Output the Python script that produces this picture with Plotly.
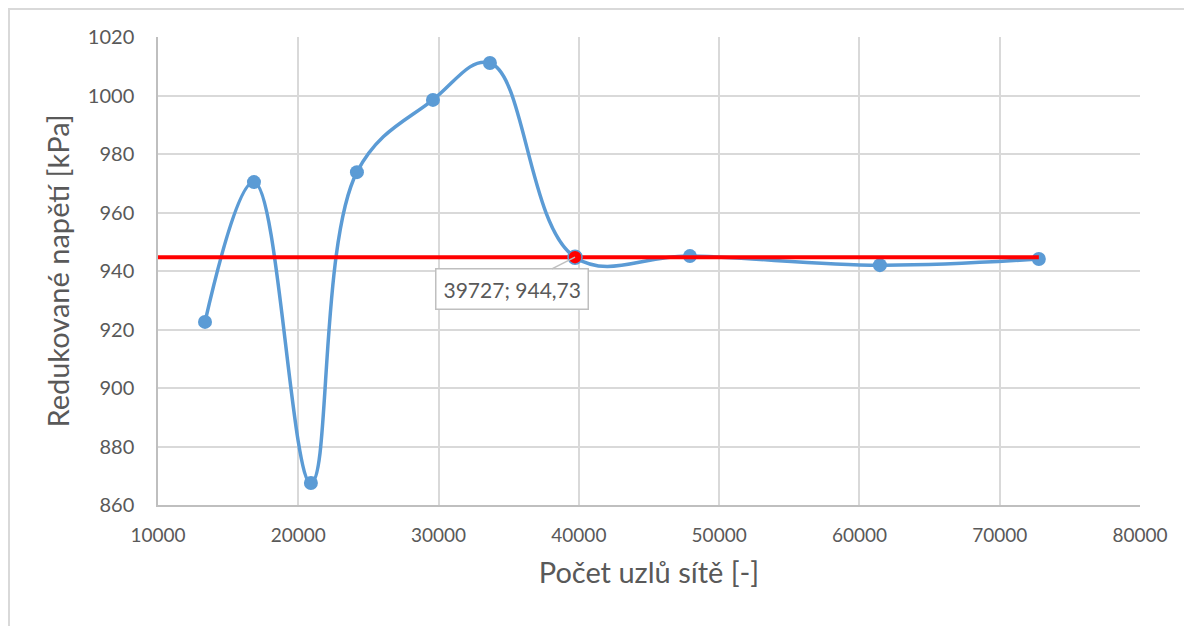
import plotly.graph_objects as go

nodes = [13350, 16840, 20900, 24180, 29600, 33660, 39727, 47920, 61460, 72790]
stress = [922.6, 970.4, 867.5, 973.8, 998.5, 1011.1, 944.73, 945.1, 942.0, 944.1]
ref_x = [10000, 72790]
ref_y = [944.73, 944.73]
sel_x = [39727]
sel_y = [944.73]
sel_label = "39727; 944,73"

x_ticks = [10000, 20000, 30000, 40000, 50000, 60000, 70000, 80000]
y_ticks = [860, 880, 900, 920, 940, 960, 980, 1000, 1020]

blue = "#5B9BD5"
font = "Lato, 'Open Sans', sans-serif"

fig = go.Figure()
fig.add_trace(go.Scatter(x=nodes, y=stress, mode="lines+markers",
                         line=dict(color=blue, width=3.5, shape="spline", smoothing=1.1),
                         marker=dict(color=blue, size=14), showlegend=False))
fig.add_trace(go.Scatter(x=ref_x, y=ref_y, mode="lines",
                         line=dict(color="#FF0000", width=4), showlegend=False))
fig.add_trace(go.Scatter(x=sel_x, y=sel_y, mode="markers",
                         marker=dict(color="#FF0000", size=14, line=dict(color=blue, width=1.5)),
                         showlegend=False))

fig.add_annotation(x=sel_x[0], y=sel_y[0], text=sel_label, showarrow=True,
                   ax=-63, ay=32, arrowhead=0, arrowcolor="#BFBFBF", arrowwidth=1.5,
                   bordercolor="#BFBFBF", borderwidth=1.5, borderpad=7, bgcolor="white",
                   font=dict(family=font, size=21, color="#595959"))

# outer chart border (only top and left edges visible in the frame)
fig.add_shape(type="rect", xref="paper", yref="paper",
              x0=-149/982, x1=1.3, y0=-0.5, y1=(468 + 28) / 468,
              line=dict(color="#D9D9D9", width=2), layer="below")

fig.update_layout(
    width=1184, height=618,
    margin=dict(l=150, r=52, t=29, b=121),
    plot_bgcolor="white", paper_bgcolor="white",
    font=dict(family=font, color="#595959"),
    xaxis=dict(range=[10000, 80000], tickvals=x_ticks, ticktext=[str(v) for v in x_ticks],
               showgrid=True, gridcolor="#D9D9D9", gridwidth=1.5,
               showline=True, linecolor="#BFBFBF", linewidth=1.5, zeroline=False,
               ticks="", tickfont=dict(size=19, color="#595959"), ticklabelstandoff=12,
               title=dict(text="Počet uzlů sítě [-]", font=dict(size=29, color="#595959"), standoff=18)),
    yaxis=dict(range=[860, 1020], tickvals=y_ticks, ticktext=[str(v) for v in y_ticks],
               showgrid=True, gridcolor="#D9D9D9", gridwidth=1.5,
               showline=True, linecolor="#BFBFBF", linewidth=1.5, zeroline=False,
               ticks="", tickfont=dict(size=20, color="#595959"), ticklabelstandoff=18,
               title=dict(text="Redukované napětí [kPa]", font=dict(size=29, color="#595959"), standoff=10)),
)

fig.write_html("out.html")
